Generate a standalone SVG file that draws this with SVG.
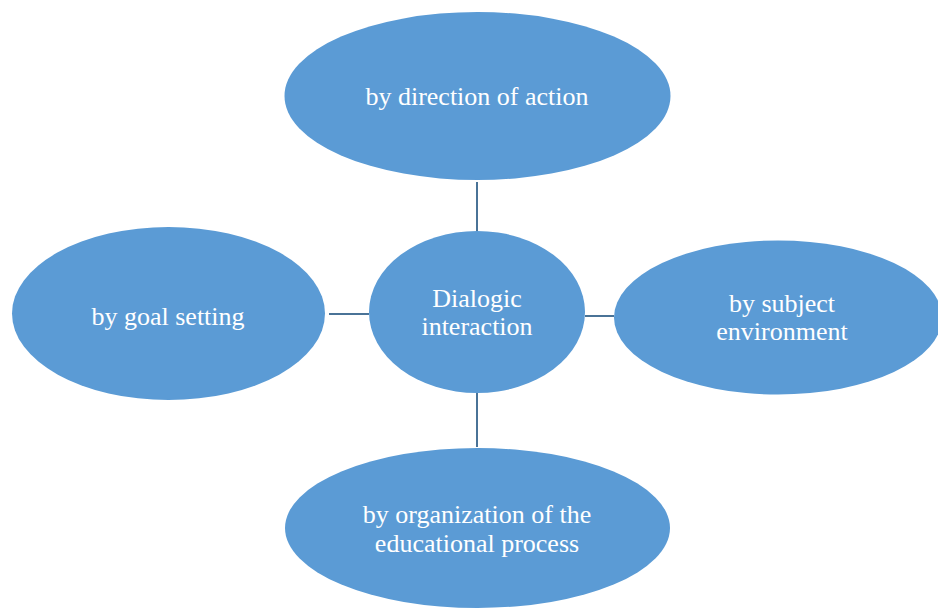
<svg xmlns="http://www.w3.org/2000/svg" width="938" height="610" viewBox="0 0 938 610">
  <style>
    .node { fill: #5B9BD5; }
    .label { fill: #FFFFFF; font-family: 'Liberation Serif', 'Times New Roman', 'DejaVu Serif', serif; font-size: 26px; text-anchor: middle; }
    .link { stroke: #4A7397; stroke-width: 2; fill: none; }
  </style>
  <rect width="938" height="610" fill="#FFFFFF"/>
  <g id="connectors">
    <line class="link" x1="477" y1="182" x2="477" y2="231"/>
    <line class="link" x1="329" y1="314" x2="369" y2="314"/>
    <line class="link" x1="585" y1="316" x2="614" y2="316"/>
    <line class="link" x1="477" y1="393" x2="477" y2="447"/>
  </g>
  <g id="node-top">
    <ellipse class="node" cx="477.5" cy="96" rx="193" ry="84"/>
    <text class="label" x="477" y="105">by direction of action</text>
  </g>
  <g id="node-left">
    <ellipse class="node" cx="168.5" cy="313.5" rx="156.5" ry="86.5"/>
    <text class="label" x="168" y="325">by goal setting</text>
  </g>
  <g id="node-center">
    <ellipse class="node" cx="477" cy="312" rx="108" ry="81"/>
    <text class="label" x="477" y="307">Dialogic</text>
    <text class="label" x="477" y="335">interaction</text>
  </g>
  <g id="node-right">
    <ellipse class="node" cx="778" cy="317.5" rx="164" ry="77"/>
    <text class="label" x="782" y="312">by subject</text>
    <text class="label" x="782" y="340">environment</text>
  </g>
  <g id="node-bottom">
    <ellipse class="node" cx="477.5" cy="528" rx="192.5" ry="80"/>
    <text class="label" x="477" y="523">by organization of the</text>
    <text class="label" x="477" y="552">educational process</text>
  </g>
</svg>
